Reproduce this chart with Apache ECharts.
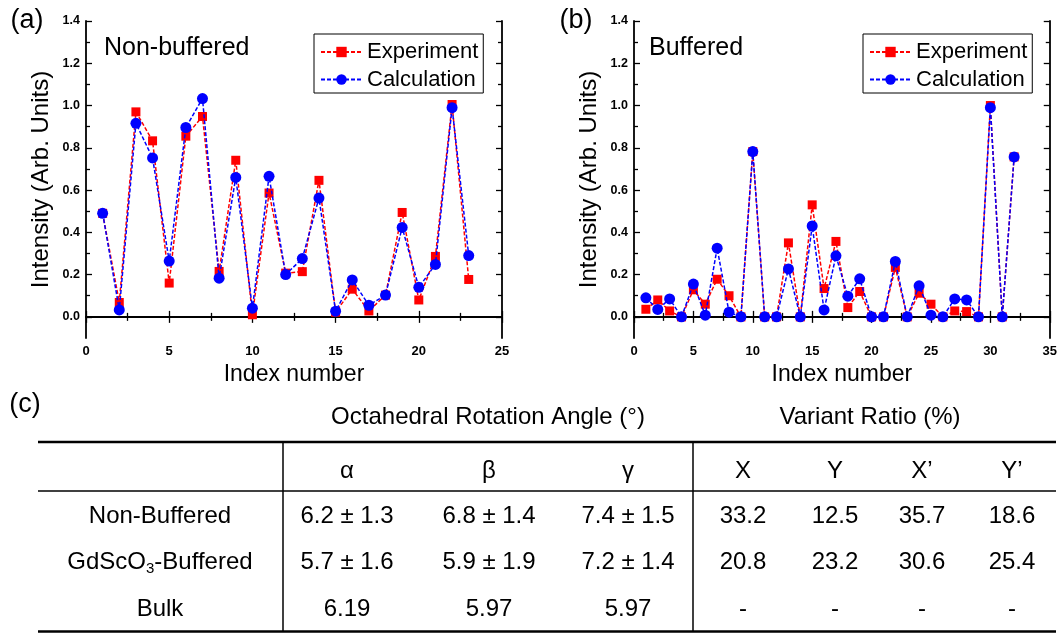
<!DOCTYPE html>
<html>
<head>
<meta charset="utf-8">
<script src="https://cdn.jsdelivr.net/npm/echarts@6/dist/echarts.min.js"></script>
<style>
html,body{margin:0;padding:0;background:#fff;}
#chart{width:1060px;height:633px;}
</style>
</head>
<body>
<div id="chart"></div>
<script>
// ---------- data ----------
const expNonBuffered  = [0.49,0.068,0.97,0.833,0.16,0.855,0.948,0.215,0.741,0.01,0.586,0.207,0.214,0.646,0.022,0.131,0.028,0.103,0.494,0.08,0.286,1.005,0.177];
const calcNonBuffered = [0.49,0.033,0.916,0.752,0.264,0.896,1.033,0.183,0.66,0.041,0.665,0.2,0.276,0.562,0.027,0.175,0.055,0.103,0.423,0.14,0.248,0.99,0.29];
const expBuffered  = [0.036,0.08,0.028,0,0.128,0.06,0.178,0.1,0,0.782,0,0,0.35,0,0.53,0.134,0.357,0.044,0.12,0,0,0.234,0,0.112,0.06,0,0.028,0.025,0,1.0,0,0.757];
const calcBuffered = [0.09,0.035,0.085,0,0.155,0.008,0.325,0.022,0,0.782,0,0,0.227,0,0.43,0.033,0.289,0.098,0.18,0,0,0.262,0,0.147,0.008,0,0.085,0.08,0,0.99,0,0.757];
const yLabelValues = [0,0.2,0.4,0.6,0.8,1.0,1.2,1.4];
const yMinorValues = [0.1,0.3,0.5,0.7,0.9,1.1,1.3];
const seriesNames = ['Experiment','Calculation'];
const panelTitles = ['Non-buffered','Buffered'];
const panelLetters = ['(a)','(b)','(c)'];
const groupHeaders = ['Octahedral Rotation Angle (°)','Variant Ratio (%)'];
const angleHeaders = ['α','β','γ'];
const ratioHeaders = ['X','Y','X’','Y’'];
const rowLabels = ['Non-Buffered','{n|GdScO}{s|3}{n|-Buffered}','Bulk'];
const angleValues = [['6.2 ± 1.3','6.8 ± 1.4','7.4 ± 1.5'],['5.7 ± 1.6','5.9 ± 1.9','7.2 ± 1.4'],['6.19','5.97','5.97']];
const ratioValues = [['33.2','12.5','35.7','18.6'],['20.8','23.2','30.6','25.4'],['-','-','-','-']];

// ---------- styles ----------
const FONT = "'Liberation Sans', Arial, sans-serif";
const RED = '#ff0000', BLUE = '#0000ff';
const grids = [
  {left:86, top:21, width:416, height:317},
  {left:634, top:21, width:417, height:317}
];
const xMax = [25, 35];

const xAxes = [], yAxes = [], series = [];
grids.forEach((g, gi) => {
  const axisLine = {lineStyle:{color:'#000', width:1.8}};
  xAxes.push({
    gridIndex:gi, type:'value', min:0, max:xMax[gi], interval:5, position:'bottom',
    axisLine, axisTick:{inside:true, length:6, lineStyle:{color:'#000', width:1.3}},
    minorTick:{show:true, splitNumber:2, length:4, lineStyle:{color:'#000', width:1.3}},
    splitLine:{show:false}, minorSplitLine:{show:false},
    axisLabel:{fontFamily:FONT, fontWeight:'bold', fontSize:13, color:'#000', margin:7},
    name:'Index number', nameLocation:'middle', nameGap:25,
    nameTextStyle:{fontFamily:FONT, fontSize:23, color:'#000'}
  });
  xAxes.push({
    gridIndex:gi, type:'value', min:0, max:xMax[gi], interval:5, position:'top',
    axisLine, axisTick:{inside:true, length:6, lineStyle:{color:'#000', width:1.3}},
    minorTick:{show:true, splitNumber:2, length:4, lineStyle:{color:'#000', width:1.3}},
    splitLine:{show:false}, axisLabel:{show:false}
  });
  const yBase = {gridIndex:gi, type:'value', min:-0.1, max:1.4, interval:0.1, splitLine:{show:false}};
  yAxes.push(Object.assign({}, yBase, {
    position:'left', axisLine,
    axisTick:{inside:true, length:6, customValues:yLabelValues, lineStyle:{color:'#000', width:1.3}},
    axisLabel:{customValues:yLabelValues, formatter:v=>v.toFixed(1), fontFamily:FONT, fontWeight:'bold', fontSize:12.5, color:'#000', margin:6},
    name:'Intensity (Arb. Units)', nameLocation:'middle', nameGap:33, nameRotate:90,
    nameTextStyle:{fontFamily:FONT, fontSize:24, color:'#000'}
  }));
  yAxes.push(Object.assign({}, yBase, {
    position:'left', axisLine:{show:false},
    axisTick:{inside:true, length:4, customValues:yMinorValues, lineStyle:{color:'#000', width:1.3}},
    axisLabel:{show:false}
  }));
  yAxes.push(Object.assign({}, yBase, {
    position:'right', axisLine,
    axisTick:{inside:true, length:6, customValues:yLabelValues, lineStyle:{color:'#000', width:1.3}},
    axisLabel:{show:false}
  }));
  yAxes.push(Object.assign({}, yBase, {
    position:'right', axisLine:{show:false},
    axisTick:{inside:true, length:4, customValues:yMinorValues, lineStyle:{color:'#000', width:1.3}},
    axisLabel:{show:false}
  }));
});

const panelData = [[expNonBuffered, calcNonBuffered],[expBuffered, calcBuffered]];
panelData.forEach((pair, gi) => {
  series.push({
    type:'line', name:seriesNames[0], xAxisIndex:gi*2, yAxisIndex:gi*4,
    data:pair[0].map((v,i)=>[i+1,v]), symbol:'rect', symbolSize:9,
    itemStyle:{color:RED}, lineStyle:{color:RED, width:1.5, type:[4,2]}, z:2
  });
  series.push({
    type:'line', name:seriesNames[1], xAxisIndex:gi*2, yAxisIndex:gi*4,
    data:pair[1].map((v,i)=>[i+1,v]), symbol:'circle', symbolSize:11,
    itemStyle:{color:BLUE}, lineStyle:{color:BLUE, width:1.5, type:[4,2]}, z:3
  });
});

const legendBase = {
  data:seriesNames, orient:'vertical', top:34, itemWidth:41, itemHeight:13, itemGap:5.5,
  textStyle:{fontFamily:FONT, fontSize:22, color:'#000'},
  borderColor:'#000', borderWidth:1, padding:[7,5,2.5,6], selectedMode:false
};

// ---------- table graphics ----------
const graphic = [];
const txt = (x, y, text, size, extra) => graphic.push({
  type:'text', x, y, silent:true,
  style:Object.assign({text, fill:'#000', font:size+'px '+FONT, align:'center', verticalAlign:'middle'}, extra||{})
});
const line = (x1,y1,x2,y2,w) => graphic.push({type:'line', silent:true, shape:{x1,y1,x2,y2}, style:{stroke:'#000', lineWidth:w}});

txt(27, 21, panelLetters[0], 27);
txt(576, 21, panelLetters[1], 27);
txt(25, 405, panelLetters[2], 27);
txt(104, 48, panelTitles[0], 25, {align:'left'});
txt(649, 48, panelTitles[1], 25, {align:'left'});

txt(488, 417, groupHeaders[0], 24);
txt(870, 417, groupHeaders[1], 24);
line(38, 442, 1056, 442, 2.5);
line(38, 491, 1056, 491, 1.5);
line(38, 631.5, 1056, 631.5, 2.5);
line(283, 442, 283, 631, 1.5);
line(693, 442, 693, 631, 1.5);

const angleX = [347, 489, 628];
const ratioX = [743, 835, 922, 1012];
const headerY = 471, rowY = [516, 562, 609];
angleHeaders.forEach((h,i)=>txt(angleX[i], headerY, h, 24));
ratioHeaders.forEach((h,i)=>txt(ratioX[i], headerY, h, 24));
rowLabels.forEach((lab, r) => {
  graphic.push({
    type:'text', x:160, y:rowY[r], silent:true,
    style:{text:lab, fill:'#000', font:'24px '+FONT, align:'center', verticalAlign:'middle',
      rich:{n:{fontFamily:FONT, fontSize:24, lineHeight:28, fill:'#000'},
            s:{fontFamily:FONT, fontSize:15, lineHeight:15, verticalAlign:'bottom', fill:'#000'}}}
  });
  angleValues[r].forEach((v,i)=>txt(angleX[i], rowY[r], v, 24));
  ratioValues[r].forEach((v,i)=>txt(ratioX[i], rowY[r], v, 24));
});

const chart = echarts.init(document.getElementById('chart'), null, {renderer:'canvas'});
chart.setOption({
  animation:false,
  backgroundColor:'#fff',
  grid:grids.map(g=>Object.assign({containLabel:false}, g)),
  xAxis:xAxes, yAxis:yAxes, series,
  legend:[Object.assign({left:314}, legendBase), Object.assign({left:863}, legendBase)],
  graphic
});
</script>
</body>
</html>
